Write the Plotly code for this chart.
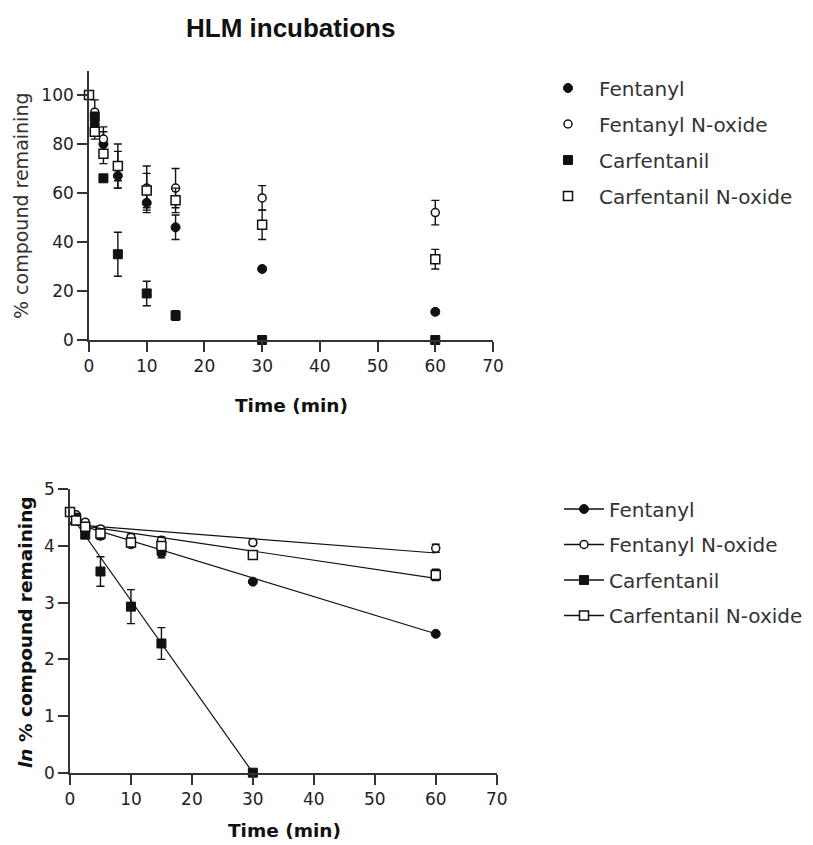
import plotly.graph_objects as go

# ---------------- data ----------------
time_min = [0, 1, 2.5, 5, 10, 15, 30, 60]
series_names = ["Fentanyl", "Fentanyl N-oxide", "Carfentanil", "Carfentanil N-oxide"]

# top panel: % compound remaining (mean, SD)
pct_fentanyl = [100, 88, 80, 67, 56, 46, 29, 11.5]
pct_fentanyl_sd = [0, 3, 5, 5, 4, 5, 1, 1]
pct_fentanyl_nox = [100, 93, 82, 71, 62, 62, 58, 52]
pct_fentanyl_nox_sd = [0, 5, 5, 9, 9, 8, 5, 5]
pct_carfentanil = [100, 91, 66, 35, 19, 10, 0, 0]
pct_carfentanil_sd = [0, 2, 1, 9, 5, 2, 0, 0]
pct_carfentanil_nox = [100, 85, 76, 71, 61, 57, 47, 33]
pct_carfentanil_nox_sd = [0, 3, 4, 6, 7, 5, 6, 4]

# bottom panel: ln % compound remaining (mean, SD)
time_ln_carfentanil = [0, 1, 2.5, 5, 10, 15, 30]
ln_fentanyl = [4.60, 4.52, 4.38, 4.18, 4.03, 3.87, 3.37, 2.45]
ln_fentanyl_sd = [0, 0.03, 0.05, 0.06, 0.05, 0.08, 0.02, 0.02]
ln_fentanyl_nox = [4.60, 4.55, 4.42, 4.30, 4.15, 4.10, 4.06, 3.96]
ln_fentanyl_nox_sd = [0, 0.03, 0.04, 0.05, 0.06, 0.06, 0.04, 0.07]
ln_carfentanil = [4.60, 4.50, 4.20, 3.55, 2.93, 2.28, 0]
ln_carfentanil_sd = [0, 0.02, 0.03, 0.26, 0.30, 0.28, 0]
ln_carfentanil_nox = [4.60, 4.45, 4.34, 4.22, 4.06, 4.00, 3.84, 3.49]
ln_carfentanil_nox_sd = [0, 0.03, 0.04, 0.06, 0.06, 0.07, 0.06, 0.10]

# linear regression lines (ln scale): intercept, slope, last time
fit_intercept = [4.42, 4.38, 4.56, 4.39]
fit_slope = [-0.0328, -0.0084, -0.152, -0.016]
fit_end = [60, 60, 30, 60]

x_ticks = [0, 10, 20, 30, 40, 50, 60, 70]
y_ticks_pct = [0, 20, 40, 60, 80, 100]
y_ticks_ln = [0, 1, 2, 3, 4, 5]

# ---------------- styling ----------------
FONT = "DejaVu Sans"
BLACK = "#111111"
AXC = "#333333"

styles = [
    dict(symbol="circle", size=9, color=BLACK, line=dict(color=BLACK, width=1)),
    dict(symbol="circle", size=8, color="white", line=dict(color=BLACK, width=1.5)),
    dict(symbol="square", size=9, color=BLACK, line=dict(color=BLACK, width=1)),
    dict(symbol="square", size=9, color="white", line=dict(color=BLACK, width=1.5)),
]

top_sets = [
    (time_min, pct_fentanyl, pct_fentanyl_sd),
    (time_min, pct_fentanyl_nox, pct_fentanyl_nox_sd),
    (time_min, pct_carfentanil, pct_carfentanil_sd),
    (time_min, pct_carfentanil_nox, pct_carfentanil_nox_sd),
]
bot_sets = [
    (time_min, ln_fentanyl, ln_fentanyl_sd),
    (time_min, ln_fentanyl_nox, ln_fentanyl_nox_sd),
    (time_ln_carfentanil, ln_carfentanil, ln_carfentanil_sd),
    (time_min, ln_carfentanil_nox, ln_carfentanil_nox_sd),
]

fig = go.Figure()

def err(sd):
    return dict(type="data", array=sd, visible=True, color=BLACK, thickness=1.4, width=4)

# top panel points
for i, (name, (x, y, sd)) in enumerate(zip(series_names, top_sets)):
    fig.add_trace(go.Scatter(
        x=x, y=y, mode="markers", name=name, marker=styles[i], error_y=err(sd),
        xaxis="x", yaxis="y", legend="legend", legendgroup="t%d" % i,
        cliponaxis=False,
    ))

# bottom panel: fit lines, points, legend entries
for i, (name, (x, y, sd)) in enumerate(zip(series_names, bot_sets)):
    fx = [0, fit_end[i]]
    fy = [fit_intercept[i] + fit_slope[i] * t for t in fx]
    fig.add_trace(go.Scatter(
        x=fx, y=fy, mode="lines", line=dict(color=BLACK, width=1.2),
        xaxis="x2", yaxis="y2", showlegend=False, hoverinfo="skip", cliponaxis=False,
    ))
    fig.add_trace(go.Scatter(
        x=x, y=y, mode="markers", name=name, marker=styles[i], error_y=err(sd),
        xaxis="x2", yaxis="y2", showlegend=False, cliponaxis=False,
    ))
    fig.add_trace(go.Scatter(
        x=[None], y=[None], mode="lines+markers", name=name, marker=styles[i],
        line=dict(color=BLACK, width=1.5),
        xaxis="x2", yaxis="y2", legend="legend2", legendgroup="b%d" % i,
    ))

W, H = 813, 845

def px(t):
    return t / W

def py(t):
    return (H - t) / H

axis_common = dict(
    showline=True, linecolor=AXC, linewidth=1.6, ticks="outside", tickcolor=AXC,
    tickwidth=1.6, ticklen=10, showgrid=False, zeroline=False, automargin=False,
    tickfont=dict(family=FONT, size=17, color="#222222"), fixedrange=True,
)

def ann(text, x, y, size, color=BLACK, angle=0, family=FONT):
    return dict(text=text, x=px(x), y=py(y), xref="paper", yref="paper",
                xanchor="center", yanchor="middle", showarrow=False, textangle=angle,
                font=dict(family=family, size=size, color=color))

fig.update_layout(
    width=W, height=H, margin=dict(l=0, r=0, t=0, b=0, pad=0), autosize=False,
    paper_bgcolor="white", plot_bgcolor="white",
    font=dict(family=FONT, color="#222222"),
    xaxis=dict(domain=[px(89), px(493)], range=[0, 70], tickvals=x_ticks, anchor="y", **axis_common),
    yaxis=dict(domain=[py(340), py(70.5)], range=[0, 110], tickvals=y_ticks_pct, anchor="x", **axis_common),
    xaxis2=dict(domain=[px(70), px(496.7)], range=[0, 70], tickvals=x_ticks, anchor="y2", **axis_common),
    yaxis2=dict(domain=[py(772.7), py(489.3)], range=[0, 5], tickvals=y_ticks_ln, anchor="x2", **axis_common),
    legend=dict(
        x=px(537), y=py(68.5), xanchor="left", yanchor="top",
        font=dict(family=FONT, size=20, color="#333333"),
        itemwidth=52, tracegroupgap=7, traceorder="grouped", bgcolor="rgba(0,0,0,0)",
    ),
    legend2=dict(
        x=px(559), y=py(489.5), xanchor="left", yanchor="top",
        font=dict(family=FONT, size=20, color="#333333"),
        itemwidth=40, tracegroupgap=6.5, traceorder="grouped", bgcolor="rgba(0,0,0,0)",
    ),
    annotations=[
        ann("<b>HLM incubations</b>", 290, 28, 26, family="Liberation Sans"),
        ann("<b>Time (min)</b>", 291, 405, 18.5),
        ann("% compound remaining", 21, 206, 19, color="#333333", angle=-90),
        ann("<b>Time (min)</b>", 284, 830, 18.5),
        ann("<b><i>ln</i> % compound remaining</b>", 25, 632, 18.5, angle=-90),
    ],
)

fig.write_html(
    "out.html",
    config={"displayModeBar": False},
    post_script="document.body.style.margin='0';document.body.style.overflow='hidden';",
)
